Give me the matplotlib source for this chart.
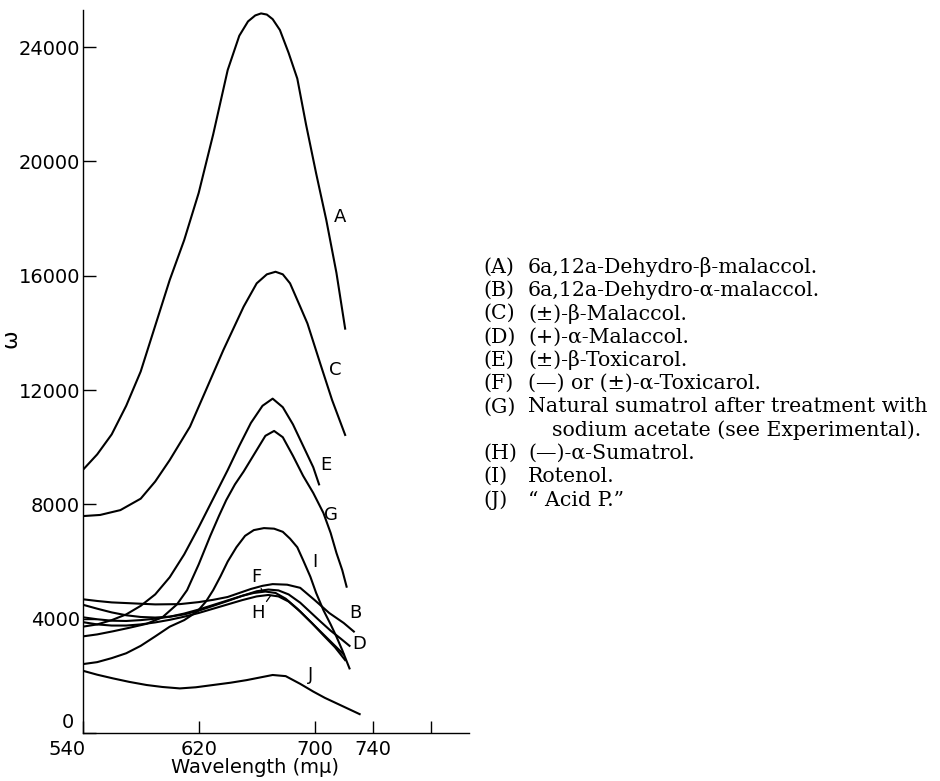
import matplotlib
matplotlib.use('Agg')
import matplotlib.pyplot as plt
import matplotlib.transforms as mtransforms

# absorption curves: wavelength (m-mu) and epsilon
wl_A = [540, 550, 560, 570, 580, 590, 600, 610, 620, 630, 640, 648, 654, 659, 663, 667, 671, 676, 682, 688, 694, 701, 708, 715, 721]
eps_A = [9200, 9750, 10450, 11450, 12650, 14250, 15850, 17250, 18900, 20950, 23200, 24400, 24900, 25110, 25180, 25140, 24980, 24600, 23800, 22900, 21300, 19580, 17950, 16100, 14150]

wl_C = [540, 552, 566, 580, 590, 600, 614, 625, 637, 651, 660, 667, 673, 678, 683, 690, 695, 704, 712, 721]
eps_C = [7590, 7630, 7800, 8200, 8800, 9550, 10720, 12000, 13400, 14920, 15735, 16050, 16140, 16050, 15735, 14920, 14330, 12900, 11650, 10430]

wl_E = [540, 550, 560, 570, 580, 590, 600, 610, 620, 630, 640, 648, 656, 664, 671, 678, 685, 692, 699, 703]
eps_E = [3720, 3800, 3950, 4150, 4450, 4850, 5450, 6250, 7200, 8200, 9200, 10050, 10850, 11450, 11700, 11400, 10800, 10050, 9300, 8700]

wl_G = [540, 550, 561, 572, 584, 595, 605, 612, 620, 628, 634, 639, 645, 651, 660, 666, 672, 678, 685, 692, 699, 706, 711, 715, 719, 722]
eps_G = [3380, 3450, 3560, 3680, 3820, 4050, 4500, 5000, 5900, 6900, 7600, 8150, 8700, 9150, 9900, 10400, 10570, 10350, 9700, 9000, 8400, 7700, 7000, 6300, 5700, 5120]

wl_I = [540, 550, 560, 570, 580, 590, 600, 610, 619, 625, 630, 635, 640, 646, 652, 658, 665, 672, 678, 683, 688, 692, 697, 701, 706, 711, 715, 719, 724]
eps_I = [2410, 2480, 2620, 2790, 3050, 3380, 3720, 3950, 4250, 4600, 5000, 5480, 6000, 6500, 6900, 7100, 7170, 7150, 7040, 6800, 6500, 6050, 5470, 4900, 4300, 3800, 3370, 2900, 2260]

wl_B = [540, 550, 560, 573, 590, 607, 620, 630, 640, 648, 656, 664, 671, 681, 690, 700, 710, 720, 727]
eps_B = [4680, 4620, 4570, 4540, 4500, 4510, 4580, 4660, 4760, 4900, 5040, 5150, 5210, 5190, 5080, 4650, 4200, 3850, 3550]

wl_D = [540, 550, 560, 570, 580, 590, 600, 610, 620, 630, 640, 650, 660, 668, 675, 682, 690, 697, 704, 711, 718, 724]
eps_D = [4490, 4350, 4220, 4120, 4060, 4040, 4070, 4150, 4280, 4450, 4620, 4800, 4960, 5020, 4990, 4850, 4560, 4230, 3900, 3580, 3300, 3050]

wl_F = [540, 550, 560, 570, 580, 590, 600, 610, 620, 630, 640, 650, 658, 666, 673, 680, 688, 696, 704, 712, 720]
eps_F = [4050, 3980, 3930, 3920, 3950, 4000, 4070, 4180, 4320, 4480, 4640, 4800, 4900, 4950, 4900, 4700, 4350, 3950, 3550, 3150, 2750]

wl_H = [540, 550, 560, 570, 580, 590, 600, 610, 620, 630, 640, 650, 660, 668, 675, 682, 690, 698, 706, 714, 721]
eps_H = [3880, 3800, 3760, 3760, 3800, 3870, 3960, 4070, 4200, 4350, 4500, 4650, 4780, 4830, 4780, 4600, 4250, 3850, 3420, 3000, 2550]

wl_J = [540, 550, 561, 572, 584, 595, 607, 618, 630, 642, 653, 662, 671, 680, 690, 699, 707, 715, 723, 731]
eps_J = [2180, 2040, 1910, 1790, 1680, 1610, 1560, 1600, 1680, 1760, 1850, 1940, 2030, 1990, 1720, 1450, 1230, 1040, 850, 660]

curves = [(wl_A, eps_A), (wl_B, eps_B), (wl_C, eps_C), (wl_D, eps_D), (wl_E, eps_E),
          (wl_F, eps_F), (wl_G, eps_G), (wl_H, eps_H), (wl_I, eps_I), (wl_J, eps_J)]

x_ticks = [540, 620, 700, 740, 780]
x_tick_labels = ['540', '620', '700', '740', '']
y_ticks = [0, 4000, 8000, 12000, 16000, 20000, 24000]
y_tick_labels = ['0', '4000', '8000', '12000', '16000', '20000', '24000']

legend_tags = ['(A)', '(B)', '(C)', '(D)', '(E)', '(F)', '(G)', '', '(H)', '(I)', '(J)']
legend_names = ['6a,12a-Dehydro-β-malaccol.',
                '6a,12a-Dehydro-α-malaccol.',
                '(±)-β-Malaccol.',
                '(+)-α-Malaccol.',
                '(±)-β-Toxicarol.',
                '(—) or (±)-α-Toxicarol.',
                'Natural sumatrol after treatment with',
                'sodium acetate (see Experimental).',
                '(—)-α-Sumatrol.',
                'Rotenol.',
                '\u201c Acid P.\u201d']

# curve letters placed beside the curves
curve_labels = [('A', 717.5, 18060), ('C', 714, 12700), ('E', 708, 9380), ('G', 711.5, 7630),
                ('I', 700, 5990), ('B', 728, 4190), ('D', 731, 3100), ('J', 697, 2030)]

fig = plt.figure(figsize=(9.4, 7.81), dpi=100)
ax = fig.add_axes([82.7 / 940, 48 / 781, 386.3 / 940, 723 / 781])

for wl, eps in curves:
    ax.plot(wl, eps, color='black', lw=1.5, solid_joinstyle='round')

ax.set_xlim(540, 540 + 386.3 / 1.45)
ax.set_ylim(0, 25300)

for side in ['top', 'right']:
    ax.spines[side].set_visible(False)
for side in ['left', 'bottom']:
    ax.spines[side].set_linewidth(1.0)

ax.set_xticks(x_ticks)
ax.set_xticklabels(x_tick_labels, fontsize=14, family='DejaVu Sans')
ax.set_yticks(y_ticks)
ax.set_yticklabels(y_tick_labels, fontsize=14, family='DejaVu Sans')
ax.tick_params(axis='both', direction='in', length=9, width=1.0)
ax.tick_params(axis='y', pad=2)
ax.tick_params(axis='x', pad=5)

# move the "540" and "0" labels off the corner like the original
lab540 = ax.get_xticklabels()[0]
lab540.set_transform(lab540.get_transform() + mtransforms.ScaledTranslation(-16 / 100, 0, fig.dpi_scale_trans))
lab0 = ax.get_yticklabels()[0]
lab0.set_transform(lab0.get_transform() + mtransforms.ScaledTranslation(-6 / 100, 12 / 100, fig.dpi_scale_trans))

ax.set_ylabel('ω', fontsize=16)
ax.yaxis.set_label_coords(-0.16, 0.545)
ax.set_xlabel('Wavelength (mμ)', fontsize=14)
ax.xaxis.set_label_coords(0.446, -0.035)

for name, x, y in curve_labels:
    ax.text(x, y, name, fontsize=13, ha='center', va='center')

ax.annotate('F', xy=(663.8, 4960), xytext=(660, 5470), fontsize=13, ha='center', va='center',
            arrowprops=dict(arrowstyle='-', lw=0.9, shrinkA=6, shrinkB=0))
ax.annotate('H', xy=(669.5, 4800), xytext=(661, 4190), fontsize=13, ha='center', va='center',
            arrowprops=dict(arrowstyle='-', lw=0.9, shrinkA=6, shrinkB=0))

# legend block at the right
y0 = 781 - 267
for i, (tag, desc) in enumerate(zip(legend_tags, legend_names)):
    yy = (y0 - i * 23.3) / 781
    xx = 528 if tag else 552
    if tag:
        fig.text(483 / 940, yy, tag, fontsize=14.8, family='DejaVu Serif', va='center')
    fig.text(xx / 940, yy, desc, fontsize=14.8, family='DejaVu Serif', va='center')

fig.savefig('out.png', dpi=100)
